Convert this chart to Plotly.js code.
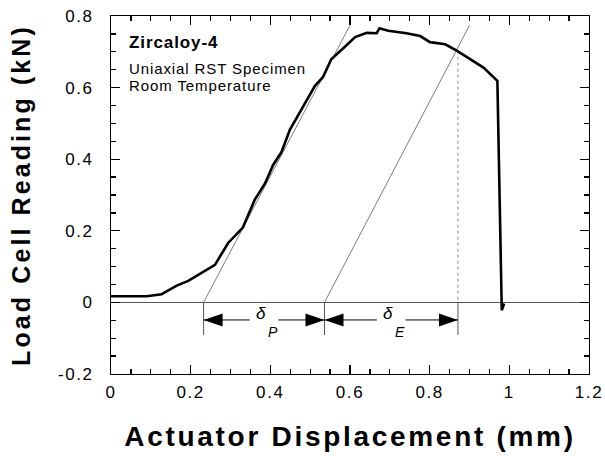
<!DOCTYPE html>
<html>
<head>
<meta charset="utf-8">
<script src="https://cdn.plot.ly/plotly-3.0.1.min.js"></script>
<style>
  html, body { margin: 0; padding: 0; background: #fff; }
  #chart { width: 605px; height: 456px; }
  .xtitle { letter-spacing: 2.7px; }
  .ytitle { letter-spacing: 3.1px; }
  .xtick text, .ytick text { letter-spacing: 1.6px; }
  .annotation-text { letter-spacing: 0.9px; }
</style>
</head>
<body>
<div id="chart"></div>
<script>
// ---- data ----
const dispMM = [0, 0.09, 0.127, 0.165, 0.194, 0.261, 0.294, 0.331, 0.361, 0.387, 0.407, 0.428,
  0.449, 0.470, 0.491, 0.512, 0.532, 0.553, 0.583, 0.613, 0.642, 0.667, 0.674, 0.696, 0.742,
  0.776, 0.801, 0.839, 0.868, 0.893, 0.935, 0.970, 0.981, 0.987];
const loadKN = [0.017, 0.017, 0.023, 0.047, 0.060, 0.105, 0.166, 0.209, 0.287, 0.333, 0.384, 0.420,
  0.482, 0.524, 0.566, 0.605, 0.629, 0.679, 0.710, 0.741, 0.753, 0.752, 0.766, 0.759, 0.752,
  0.744, 0.727, 0.721, 0.703, 0.686, 0.656, 0.619, -0.022, -0.003];

const tangentPX = [0.2325, 0.600];
const tangentPY = [0, 0.774];
const tangentEX = [0.536, 0.900];
const tangentEY = [0, 0.774];
const unloadX = [0.871, 0.871];
const unloadY = [0.703, 0];

const dimXs = [0.2325, 0.536, 0.871];
const dimLevel = -0.049;
const extBottom = -0.091;
const dimLabels = ['δ', 'δ'];
const dimSubs = ['P', 'E'];

const xTickVals = [0, 0.2, 0.4, 0.6, 0.8, 1, 1.2];
const xTickText = ['0', '0.2', '0.4', '0.6', '0.8', '1', '1.2'];
const yTickVals = [-0.2, 0, 0.2, 0.4, 0.6, 0.8];
const yTickText = ['-0.2', '0', '0.2', '0.4', '0.6', '0.8'];

const noteLines = ['<b>Zircaloy-4</b>', 'Uniaxial RST Specimen', 'Room Temperature'];

// ---- styling constants ----
const FONT = 'Liberation Sans, Arial, Helvetica, sans-serif';
const PXX = 1.2 / 478;
const PXY = 1.0 / 358;
const headL = 19 * PXX, headH = 6.5 * PXY, gapHalf = 0.036;

const extX = [], extY = [];
dimXs.forEach(v => { extX.push(v, v, null); extY.push(0, extBottom, null); });

const dimLX = [], dimLY = [];
const shapes = [];
const annotations = [];
for (let i = 0; i < dimXs.length - 1; i++) {
  const a = dimXs[i], b = dimXs[i + 1], mid = (a + b) / 2;
  dimLX.push(a, mid - gapHalf, null, mid + gapHalf, b, null);
  dimLY.push(dimLevel, dimLevel, null, dimLevel, dimLevel, null);
  shapes.push({type: 'path', xref: 'x', yref: 'y', line: {width: 0}, fillcolor: 'black',
    path: `M${a},${dimLevel} L${a + headL},${dimLevel + headH} L${a + headL},${dimLevel - headH} Z`});
  shapes.push({type: 'path', xref: 'x', yref: 'y', line: {width: 0}, fillcolor: 'black',
    path: `M${b},${dimLevel} L${b - headL},${dimLevel + headH} L${b - headL},${dimLevel - headH} Z`});
  annotations.push({x: mid - 3 * PXX, y: dimLevel + 6 * PXY, xref: 'x', yref: 'y', text: '<i>' + dimLabels[i] + '</i>',
    showarrow: false, xanchor: 'center', yanchor: 'middle', font: {family: FONT, size: 17, color: 'black'}});
  annotations.push({x: mid + 9 * PXX, y: dimLevel - 12 * PXY, xref: 'x', yref: 'y', text: '<i>' + dimSubs[i] + '</i>',
    showarrow: false, xanchor: 'center', yanchor: 'middle', font: {family: FONT, size: 14, color: 'black'}});
}

const noteY = [0.7246, 0.6543, 0.6064];
const noteSize = [17, 15, 15];
noteLines.forEach((t, i) => {
  annotations.push({x: 0.040, y: noteY[i], xref: 'x', yref: 'y', text: t, showarrow: false,
    xanchor: 'left', yanchor: 'middle', font: {family: FONT, size: noteSize[i], color: 'black'}});
});

const traces = [
  {x: tangentPX, y: tangentPY, mode: 'lines', line: {color: '#444', width: 0.7}, hoverinfo: 'skip'},
  {x: tangentEX, y: tangentEY, mode: 'lines', line: {color: '#444', width: 0.7}, hoverinfo: 'skip'},
  {x: unloadX, y: unloadY, mode: 'lines', line: {color: '#888', width: 1, dash: 'dot'}, hoverinfo: 'skip'},
  {x: extX, y: extY, mode: 'lines', line: {color: '#555', width: 1}, connectgaps: false, hoverinfo: 'skip'},
  {x: dimLX, y: dimLY, mode: 'lines', line: {color: 'black', width: 1}, connectgaps: false, hoverinfo: 'skip'},
  {x: dispMM, y: loadKN, mode: 'lines', line: {color: 'black', width: 2.6}, hoverinfo: 'skip'}
];

const axisCommon = {
  showline: true, linecolor: 'black', linewidth: 1, mirror: 'allticks',
  ticks: 'inside', ticklen: 9, tickwidth: 1.3, tickcolor: 'black',
  showgrid: false, automargin: false,
  tickfont: {family: FONT, size: 17, color: 'black'}
};

const layout = {
  width: 605, height: 456,
  margin: {l: 111, r: 16, t: 16, b: 82},
  paper_bgcolor: 'white', plot_bgcolor: 'white',
  showlegend: false,
  xaxis: Object.assign({}, axisCommon, {
    range: [0, 1.2], tickvals: xTickVals, ticktext: xTickText, zeroline: false,
    minor: {tick0: 0, dtick: 0.05, ticks: 'inside', ticklen: 5, tickwidth: 1.3, tickcolor: 'black', showgrid: false},
    ticklabelstandoff: 3,
    title: {text: 'Actuator Displacement (mm)', standoff: 24,
      font: {family: FONT, size: 28, weight: 'bold', color: 'black'}}
  }),
  yaxis: Object.assign({}, axisCommon, {
    range: [-0.2, 0.8], tickvals: yTickVals, ticktext: yTickText,
    zeroline: true, zerolinecolor: '#555', zerolinewidth: 1.2,
    minor: {tick0: 0, dtick: 0.05, ticks: 'inside', ticklen: 5, tickwidth: 1.3, tickcolor: 'black', showgrid: false},
    ticklabelstandoff: 13,
    title: {text: 'Load Cell Reading (kN)', standoff: 20,
      font: {family: FONT, size: 25, weight: 'bold', color: 'black'}}
  }),
  shapes: shapes,
  annotations: annotations
};

Plotly.newPlot('chart', traces, layout, {staticPlot: true, displayModeBar: false});
</script>
</body>
</html>
